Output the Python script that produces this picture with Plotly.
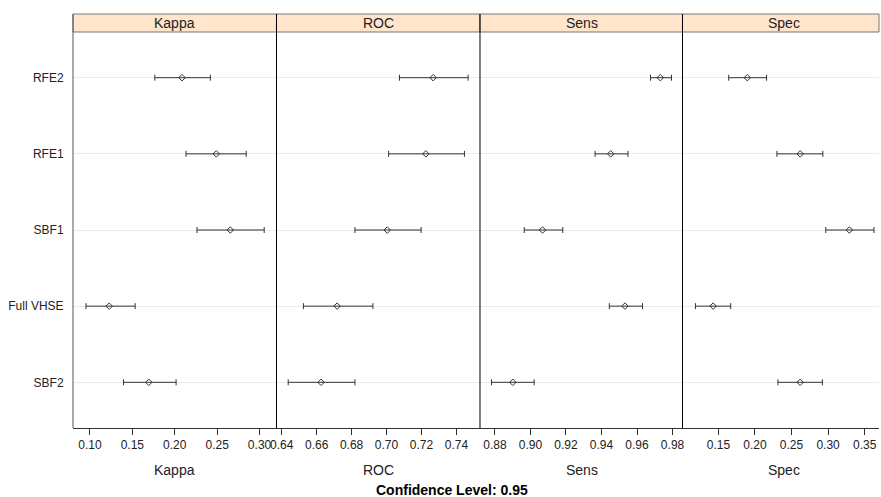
import plotly.graph_objects as go

models = ["SBF2", "Full VHSE", "SBF1", "RFE1", "RFE2"]
metrics = ["Kappa", "ROC", "Sens", "Spec"]

kappa_est = [0.1694, 0.1227, 0.2655, 0.2490, 0.2086]
kappa_lo = [0.1396, 0.0953, 0.2262, 0.2133, 0.1765]
kappa_hi = [0.2016, 0.1533, 0.3055, 0.2843, 0.2420]

roc_est = [0.6625, 0.6717, 0.7004, 0.7225, 0.7267]
roc_lo = [0.6437, 0.6524, 0.6819, 0.7012, 0.7074]
roc_hi = [0.6819, 0.6922, 0.7198, 0.7446, 0.7467]

sens_est = [0.8901, 0.9532, 0.9068, 0.9452, 0.9731]
sens_lo = [0.8781, 0.9444, 0.8965, 0.9364, 0.9676]
sens_hi = [0.9021, 0.9631, 0.9182, 0.9549, 0.9794]

spec_est = [0.2618, 0.1428, 0.3291, 0.2618, 0.1895]
spec_lo = [0.2314, 0.1186, 0.2968, 0.2300, 0.1641]
spec_hi = [0.2922, 0.1668, 0.3627, 0.2928, 0.2159]

kappa_ticks = [0.10, 0.15, 0.20, 0.25, 0.30]
roc_ticks = [0.64, 0.66, 0.68, 0.70, 0.72, 0.74]
sens_ticks = [0.88, 0.90, 0.92, 0.94, 0.96, 0.98]
spec_ticks = [0.15, 0.20, 0.25, 0.30, 0.35]

conf_title = "Confidence Level: 0.95"

series = [
    (kappa_est, kappa_lo, kappa_hi, kappa_ticks, [0.080, 0.320]),
    (roc_est, roc_lo, roc_hi, roc_ticks, [0.637, 0.7535]),
    (sens_est, sens_lo, sens_hi, sens_ticks, [0.8716, 0.9856]),
    (spec_est, spec_lo, spec_hi, spec_ticks, [0.1009, 0.3696]),
]

W, H = 881, 497
ml, mr, mt, mb = 73, 0, 14, 69
pw = W - ml - mr
ph = H - mt - mb
bounds_px = [73, 277, 481, 684, 881]
doms = [[(bounds_px[i] - ml) / pw, (bounds_px[i + 1] - ml) / pw] for i in range(4)]
strip_h = 18
ytop = (ph - strip_h) / ph

fig = go.Figure()
ink = "#333333"
for i, (est, lo, hi, ticks, rng) in enumerate(series):
    ax = "" if i == 0 else str(i + 1)
    plus = [h - e for h, e in zip(hi, est)]
    minus = [e - l for e, l in zip(est, lo)]
    fig.add_trace(go.Scatter(
        x=est, y=list(range(len(models))), mode="markers",
        xaxis="x" + ax, yaxis="y" + ax,
        marker=dict(symbol="diamond-open", size=5, color=ink, line=dict(width=1, color=ink)),
        error_x=dict(type="data", symmetric=False, array=plus, arrayminus=minus,
                     color=ink, thickness=1, width=3),
        showlegend=False, hoverinfo="skip",
    ))
    fig.layout["xaxis" + ax] = dict(
        domain=doms[i], range=rng, anchor="y" + ax,
        tickvals=ticks, ticktext=[f"{t:.2f}" for t in ticks],
        ticks="outside", ticklen=6, tickcolor=ink, showgrid=False, zeroline=False,
        showline=True, linecolor=ink, linewidth=1,
        tickfont=dict(family="Liberation Sans, Arial", size=12, color="#222"),
    )
    fig.layout["yaxis" + ax] = dict(
        domain=[0, ytop], range=[-0.6, 4.6], anchor="x" + ax,
        tickvals=list(range(len(models))), ticktext=models,
        showticklabels=(i == 0), ticks="outside" if i == 0 else "", ticklen=6,
        tickcolor="rgba(0,0,0,0)",
        showgrid=True, gridcolor="#ebebeb", gridwidth=1, zeroline=False,
        showline=False,
        tickfont=dict(family="Liberation Sans, Arial", size=12, color="#222"),
    )
    # strip
    fig.add_shape(type="rect", xref="paper", yref="paper",
                  x0=doms[i][0], x1=doms[i][1], y0=ytop, y1=1,
                  fillcolor="#FFE5CC", line=dict(color="#777777", width=1), layer="below")
    cx_px = (bounds_px[i] + (bounds_px[i] + 204)) / 2
    cx = (cx_px - ml) / pw
    fig.add_annotation(text=metrics[i], xref="paper", yref="paper", x=cx, y=(ytop + 1) / 2,
                       showarrow=False, xanchor="center", yanchor="middle",
                       font=dict(family="Liberation Sans, Arial", size=14, color="#222"))
    fig.add_annotation(text=metrics[i], xref="paper", yref="paper", x=cx, y=-42 / ph,
                       showarrow=False, xanchor="center", yanchor="middle",
                       font=dict(family="Liberation Sans, Arial", size=14, color="#222"))

# panel separators full height including strip
for b in bounds_px[1:4]:
    fig.add_shape(type="line", xref="paper", yref="paper",
                  x0=(b - ml) / pw, x1=(b - ml) / pw, y0=0, y1=1,
                  line=dict(color="#000000", width=1))
fig.add_shape(type="line", xref="paper", yref="paper", x0=0, x1=0, y0=0, y1=1,
              line=dict(color="#555555", width=1))

fig.add_annotation(text="<b>" + conf_title + "</b>", xref="paper", yref="paper",
                   x=(453 - ml) / pw, y=-62 / ph, showarrow=False,
                   xanchor="center", yanchor="middle",
                   font=dict(family="Liberation Sans, Arial", size=14, color="#000"))

fig.update_layout(
    width=W, height=H, margin=dict(l=ml, r=mr, t=mt, b=mb),
    paper_bgcolor="white", plot_bgcolor="white",
)
fig.write_html("out.html", config={"displayModeBar": False},
               post_script="document.body.style.margin='0';document.body.style.overflow='hidden';")
